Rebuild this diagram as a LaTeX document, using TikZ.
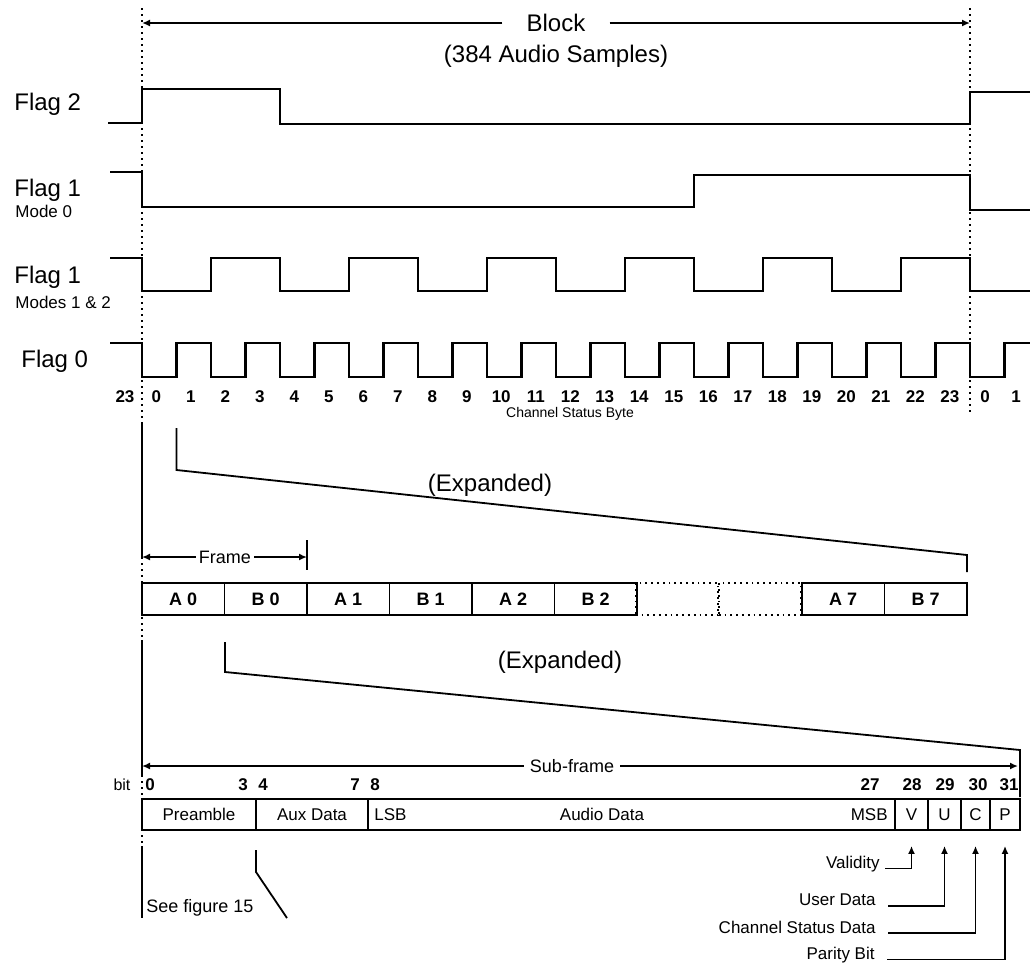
\documentclass[tikz,border=0pt]{standalone}
\usepackage{fontspec}
\setmainfont{Liberation Sans}
\usetikzlibrary{arrows.meta}

\begin{document}
\begin{tikzpicture}[
  x=0.5pt, y=-0.5pt,
  every node/.style={inner sep=1pt},
  waveline/.style={line width=1.2pt},
  rulerline/.style={line width=0.9pt},
  guide/.style={dotted, line width=1pt},
  dimline/.style={line width=0.8pt,-{Latex[length=4pt,width=3.5pt]}},
  bigtxt/.style={font=\fontsize{12}{14}\selectfont},
  smalltxt/.style={font=\fontsize{8.5}{10}\selectfont},
  numtxt/.style={font=\fontsize{8.5}{10}\selectfont\bfseries},
  framecell/.style={draw,line width=0.9pt,minimum width=41.25pt,minimum height=16pt,
    inner sep=0pt,font=\fontsize{9}{11}\selectfont\bfseries},
  subcell/.style={draw,line width=0.9pt,minimum height=15.5pt,inner sep=0pt,
    font=\fontsize{8.5}{10}\selectfont}
]
  \useasboundingbox (0,0) rectangle (1030,965);

  % block
  \node[bigtxt,inner xsep=12pt] (block) at (556,23) {Block};
  \node[bigtxt] (samples) at (556,56) {(384 Audio Samples)};
  \coordinate (blockL) at (142,23);
  \coordinate (blockR) at (970,23);
  \draw[dimline] (block.west) -- (blockL);
  \draw[dimline] (block.east) -- (blockR);
  \draw[guide] (142,8) -- (142,423);
  \draw[guide] (970,8) -- (970,412);

  % flags
  \node[bigtxt,anchor=west] (flagtwo) at (12,104) {Flag 2};
  \node[bigtxt,anchor=west] (flagone) at (12,190) {Flag 1};
  \node[smalltxt,anchor=west] (modezero) at (13,211) {Mode 0};
  \node[bigtxt,anchor=west] (flagonem) at (12,277) {Flag 1};
  \node[smalltxt,anchor=west] (modesonetwo) at (13,302) {Modes 1 \& 2};
  \node[bigtxt,anchor=west] (flagzero) at (19,361) {Flag 0};

  \draw[waveline] (108,123) -- (142,123) -- (142,89) -- (280,89) -- (280,124)
    -- (970,124) -- (970,92) -- (1030,92);
  \draw[waveline] (110,172) -- (142,172) -- (142,207) -- (694,207) -- (694,175)
    -- (970,175) -- (970,210) -- (1030,210);
  \draw[waveline] (110,258) -- (142,258)
    foreach \k in {0,...,5} { -- ({142+138*\k},291) -- ({211+138*\k},291)
      -- ({211+138*\k},258) -- ({280+138*\k},258) }
    -- (970,291) -- (1030,291);
  \draw[waveline] (110,343) -- (142,343)
    foreach \k in {0,...,11} { -- ({142+69*\k},377) -- ({176.5+69*\k},377)
      -- ({176.5+69*\k},343) -- ({211+69*\k},343) }
    -- (970,377) -- (1004.5,377) -- (1004.5,343) -- (1030,343);

  % channel status bits
  \node[numtxt] (prevbit) at (125,397) {23};
  \foreach \i in {0,...,23}
    \node[numtxt] (bit\i) at ({139+34.5*(\i+0.5)},397) {\i};
  \node[numtxt] (nextbit0) at (985,397) {0};
  \node[numtxt] (nextbit1) at (1016,397) {1};
  \node[font=\fontsize{7}{8}\selectfont] (csbyte) at (570,414) {Channel Status Byte};

  \draw[rulerline] (142,423) -- (142,557);
  \draw[guide] (142,557) -- (142,640);
  \draw[rulerline] (142,640) -- (142,775);
  \draw[guide] (142,775) -- (142,846);
  \draw[rulerline] (142,846) -- (142,918);

  % first expansion
  \coordinate (expa1) at (176.5,428);
  \coordinate (expa2) at (176.5,470);
  \coordinate (expa3) at (967,555);
  \coordinate (expa4) at (967,572);
  \draw[rulerline] (expa1) -- (expa2) -- (expa3) -- (expa4);
  \node[bigtxt] (expanda) at (490,485) {(Expanded)};

  % frames
  \node[font=\fontsize{9}{11}\selectfont,inner xsep=1.5pt] (frame) at (225,557) {Frame};
  \coordinate (frameL) at (142,557);
  \coordinate (frameR) at (307,557);
  \draw[dimline] (frame.west) -- (frameL);
  \draw[dimline] (frame.east) -- (frameR);
  \draw[rulerline] (307,540) -- (307,570);

  \foreach \c/\d/\s in {A/0/0,B/0/1,A/1/2,B/1/3,A/2/4,B/2/5,A/7/8,B/7/9}
    \node[framecell] (\c\d) at ({142+82.5*(\s+0.5)},599) {\c\ \d};
  \node[framecell,dotted,line width=1pt] (gapa) at (677,599) {};
  \node[framecell,dotted,line width=1pt] (gapb) at (760,599) {};

  % second expansion
  \coordinate (expb1) at (225,642);
  \coordinate (expb2) at (225,672);
  \coordinate (expb3) at (1020,750);
  \coordinate (expb4) at (1020,797);
  \draw[rulerline] (expb1) -- (expb2) -- (expb3) -- (expb4);
  \node[bigtxt] (expandb) at (560,662) {(Expanded)};

  % sub-frame
  \node[font=\fontsize{9}{11}\selectfont,inner xsep=3pt] (subframe) at (572,766) {Sub-frame};
  \coordinate (subL) at (142,766);
  \coordinate (subR) at (1018,766);
  \draw[dimline] (subframe.west) -- (subL);
  \draw[dimline] (subframe.east) -- (subR);

  \node[font=\fontsize{8}{10}\selectfont] (bitlabel) at (122,785) {bit};
  \foreach \n/\x in {0/150,3/243,4/263,7/355,8/375,27/870,28/912,29/945,30/978,31/1009}
    \node[numtxt] (sbit\n) at (\x,785) {\n};

  \node[subcell,minimum width=57pt] (pre) at (199,814.5) {Preamble};
  \node[subcell,minimum width=56pt] (aux) at (312,814.5) {Aux Data};
  \node[subcell,minimum width=263.5pt] (audio) at (631.5,814.5) {};
  \node[subcell,minimum width=16.5pt] (V) at (911.5,814.5) {V};
  \node[subcell,minimum width=16.5pt] (U) at (944.5,814.5) {U};
  \node[subcell,minimum width=14.5pt] (C) at (975.5,814.5) {C};
  \node[subcell,minimum width=15pt] (P) at (1005,814.5) {P};
  \node[smalltxt,anchor=west] (lsb) at (372,814.5) {LSB};
  \node[smalltxt] (audiodata) at (602,814.5) {Audio Data};
  \node[smalltxt,anchor=east] (msb) at (890,814.5) {MSB};

  % bit labels
  \node[smalltxt,anchor=east] (valid) at (882,864) {Validity};
  \node[smalltxt,anchor=east] (user) at (878,900) {User Data};
  \node[smalltxt,anchor=east] (chan) at (878,927) {Channel Status Data};
  \node[smalltxt,anchor=east] (parity) at (877,955) {Parity Bit};
  \draw[dimline] ([xshift=1.5pt]valid.base east) -| ([yshift=-7.5pt]V.south);
  \draw[dimline] ([xshift=5pt]user.base east) -| ([yshift=-7.5pt]U.south);
  \draw[dimline] ([xshift=5pt]chan.base east) -| ([yshift=-7.5pt]C.south);
  \draw[dimline] ([xshift=5pt]parity.base east) -| ([yshift=-7.5pt]P.south);

  % see figure 15
  \node[font=\fontsize{9}{11}\selectfont,anchor=west] (seefig) at (144,908) {See figure 15};
  \coordinate (fig1) at (256,850);
  \coordinate (fig2) at (256,872);
  \coordinate (fig3) at (287,918);
  \draw[rulerline] (fig1) -- (fig2) -- (fig3);
\end{tikzpicture}
\end{document}
